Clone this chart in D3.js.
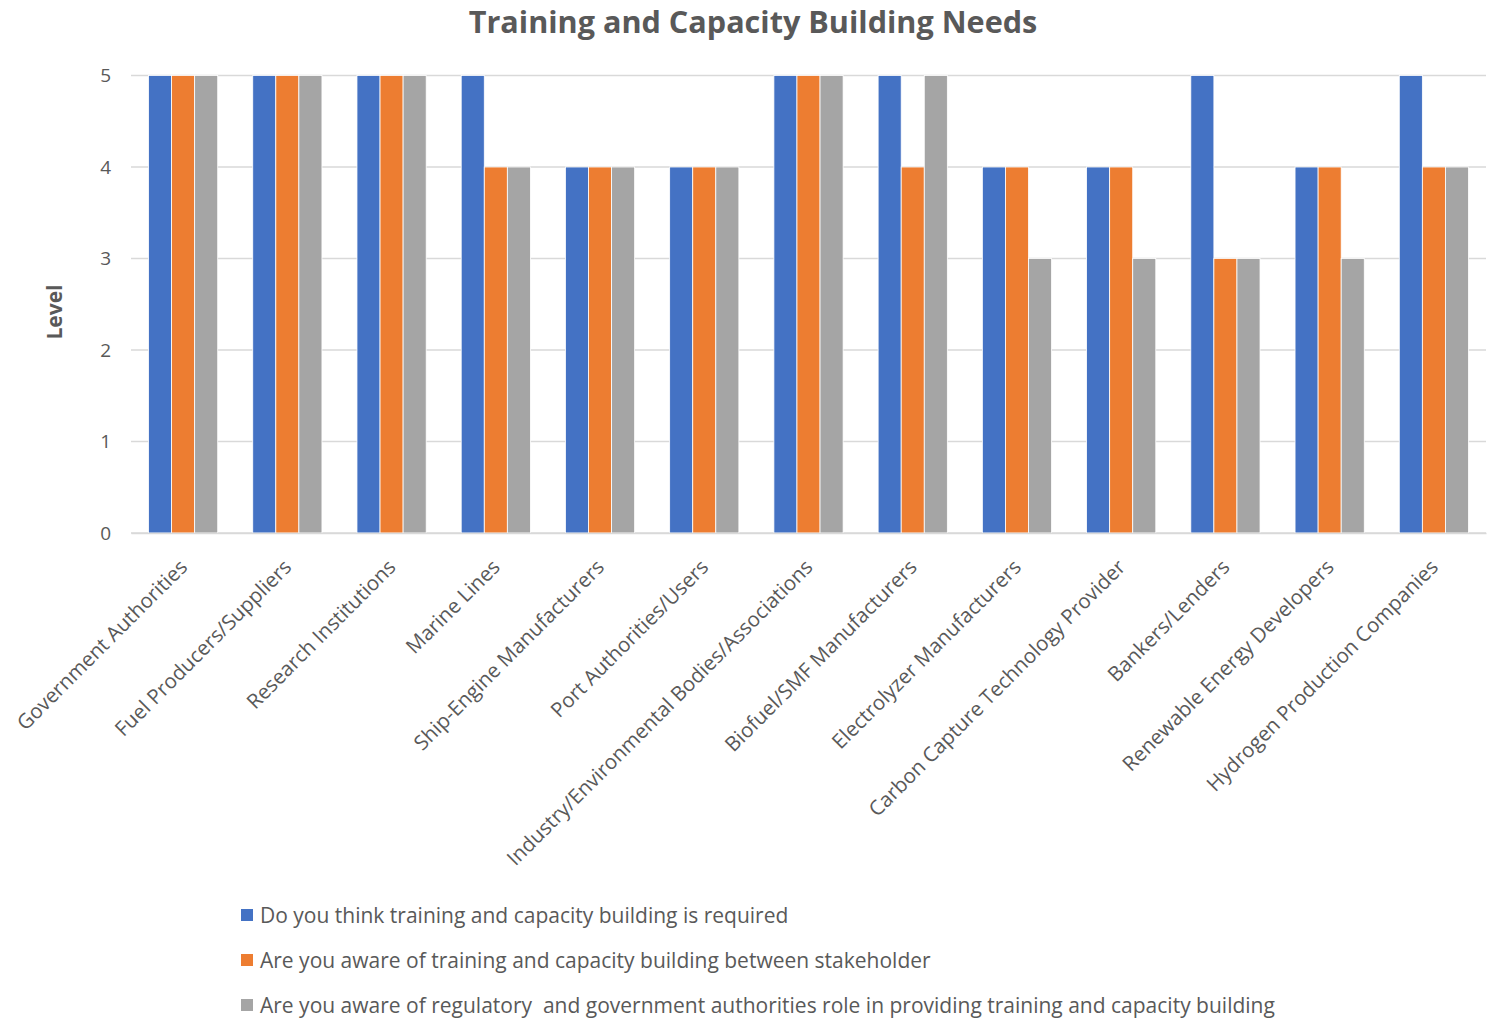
<!DOCTYPE html>
<html>
<head>
<meta charset="utf-8">
<script src="https://cdn.jsdelivr.net/npm/d3@7"></script>
<style>
  html, body { margin: 0; padding: 0; background: #fff; }
  svg { display: block; }
  svg text { font-family: "Open Sans", Lato, "Liberation Sans", sans-serif; }
</style>
</head>
<body>
<svg id="chart" width="1496" height="1019"></svg>
<script>
// Stakeholder groups along the x axis
const categories = [
  "Government Authorities",
  "Fuel Producers/Suppliers",
  "Research Institutions",
  "Marine Lines",
  "Ship-Engine Manufacturers",
  "Port Authorities/Users",
  "Industry/Environmental Bodies/Associations",
  "Biofuel/SMF Manufacturers",
  "Electrolyzer Manufacturers",
  "Carbon Capture Technology Provider",
  "Bankers/Lenders",
  "Renewable Energy Developers",
  "Hydrogen Production Companies"
];

// Survey questions (series names)
const seriesNames = [
  "Do you think training and capacity building is required",
  "Are you aware of training and capacity building between stakeholder",
  "Are you aware of regulatory  and government authorities role in providing training and capacity building"
];

// Level per stakeholder, one array per question
const requiredValues       = [5, 5, 5, 5, 4, 4, 5, 5, 4, 4, 5, 4, 5];
const stakeholderAwareness = [5, 5, 5, 4, 4, 4, 5, 4, 4, 4, 3, 4, 4];
const regulatoryAwareness  = [5, 5, 5, 4, 4, 4, 5, 5, 3, 3, 3, 3, 4];

const yTicks = [0, 1, 2, 3, 4, 5];
const colors = ["#4472c4", "#ed7d31", "#a5a5a5"];

const seriesValues = [requiredValues, stakeholderAwareness, regulatoryAwareness];
const rows = categories.map((c, i) => ({
  category: c,
  values: seriesValues.map((arr, s) => ({ series: s, value: arr[i] }))
}));

const svg = d3.select("#chart");
const margin = { left: 131, right: 10, top: 75.5, bottom: 486 };
const W = 1496, H = 1019;
const plotW = W - margin.left - margin.right;
const plotH = H - margin.top - margin.bottom;
const textColor = "#595959";

const x0 = d3.scaleBand().domain(categories).range([0, plotW]).paddingInner(0.336).paddingOuter(0.168);
const x1 = d3.scaleBand().domain(d3.range(seriesNames.length)).range([0, x0.bandwidth()]);
const y = d3.scaleLinear().domain([0, 5]).range([plotH, 0]);

const g = svg.append("g").attr("transform", `translate(${margin.left},${margin.top})`);

// Title
svg.append("text")
  .attr("x", 753).attr("y", 33)
  .attr("text-anchor", "middle")
  .attr("font-size", 30.6).attr("font-weight", "bold")
  .attr("fill", textColor)
  .text("Training and Capacity Building Needs");

// Gridlines
g.append("g")
  .selectAll("line")
  .data(yTicks)
  .join("line")
  .attr("x1", 0).attr("x2", plotW)
  .attr("y1", d => y(d)).attr("y2", d => y(d))
  .attr("stroke", "#d9d9d9").attr("stroke-width", 1.5);

// Y axis tick labels
const yAxis = g.append("g")
  .call(d3.axisLeft(y).tickValues(yTicks).tickSize(0).tickPadding(20).tickFormat(d3.format("d")));
yAxis.select(".domain").remove();
yAxis.attr("font-family", null).attr("font-size", null);
yAxis.selectAll("text").attr("font-size", 19).attr("fill", textColor);

// Bars
g.append("g")
  .selectAll("g")
  .data(rows)
  .join("g")
  .attr("transform", d => `translate(${x0(d.category)},0)`)
  .selectAll("rect")
  .data(d => d.values)
  .join("rect")
  .attr("x", d => x1(d.series))
  .attr("width", x1.bandwidth())
  .attr("y", d => y(d.value))
  .attr("height", d => y(0) - y(d.value))
  .attr("fill", d => colors[d.series])
  .attr("stroke", "#ffffff")
  .attr("stroke-width", 0.8);

// X axis baseline and rotated category labels
const xAxis = g.append("g")
  .attr("transform", `translate(0,${plotH})`)
  .call(d3.axisBottom(x0).tickSize(0));
xAxis.attr("font-family", null).attr("font-size", null);
xAxis.select(".domain").attr("stroke", "#d9d9d9").attr("stroke-width", 1.5);
xAxis.selectAll("text")
  .attr("font-size", 20.5).attr("fill", textColor)
  .attr("text-anchor", "end")
  .attr("dy", null)
  .attr("x", 0).attr("y", 0)
  .attr("transform", "translate(-7,23) rotate(-45)")
  .attr("dominant-baseline", "hanging");

// Y axis title
svg.append("text")
  .attr("transform", "translate(62,312) rotate(-90)")
  .attr("text-anchor", "middle")
  .attr("font-size", 21).attr("font-weight", "bold")
  .attr("fill", textColor)
  .text("Level");

// Legend
const legend = svg.append("g").attr("transform", "translate(241,909)");
const items = legend.selectAll("g")
  .data(seriesNames)
  .join("g")
  .attr("transform", (d, i) => `translate(0,${i * 45})`);
items.append("rect")
  .attr("width", 12).attr("height", 12)
  .attr("fill", (d, i) => colors[i]);
items.append("text")
  .attr("x", 19).attr("y", 13.5)
  .attr("font-size", 21).attr("fill", textColor)
  .style("white-space", "pre")
  .text(d => d);
</script>
</body>
</html>
